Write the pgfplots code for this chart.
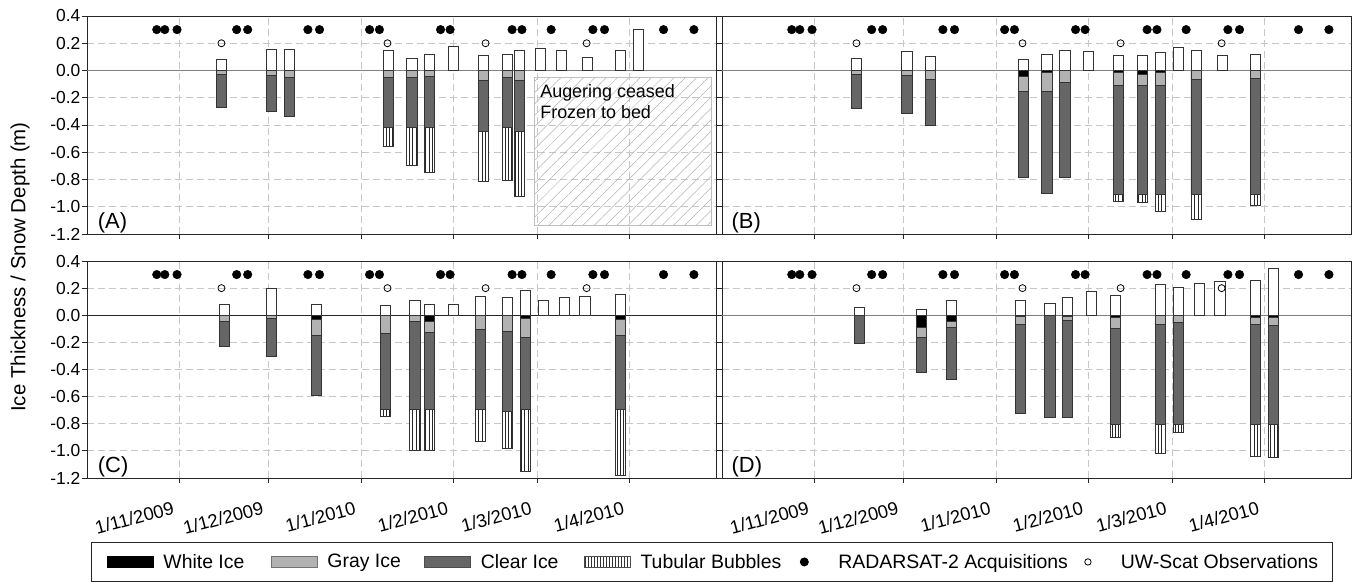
\documentclass[border=0pt]{standalone}
\usepackage{pgfplots}
\pgfplotsset{compat=1.18}
\usepackage{pgfplotstable}
\usepackage{fontspec}
\setmainfont{Liberation Sans}
\usetikzlibrary{patterns.meta}

\pgfplotstableread{
x y
-7.6 0.3
-4.9 0.3
-0.8 0.3
19.2 0.3
22.9 0.3
43.1 0.3
47.0 0.3
63.8 0.3
67.1 0.3
87.6 0.3
90.8 0.3
111.6 0.3
114.9 0.3
124.7 0.3
138.7 0.3
142.6 0.3
162.4 0.3
172.6 0.3
}\rsattab
\pgfplotstableread{
x y
14.1 0.2
69.8 0.2
102.7 0.2
136.6 0.2
}\uwstab

\definecolor{clearc}{HTML}{666666}
\definecolor{grayc}{HTML}{B2B2B2}

\tikzset{plabel/.style={anchor=south west, inner sep=0bp, font=\fontsize{22}{26}\selectfont}}

\pgfplotsset{
  panel/.style={
    scale only axis, width=629bp, height=217bp,
    xmin=-31, xmax=180, ymin=-1.2, ymax=0.4,
    xtick={0,30,61,92,120,151},
    ytick={-1.2,-1,-0.8,-0.6,-0.4,-0.2,0,0.2,0.4},
    axis line style={black!85, line width=0.9bp},
    tick style={black!85, line width=0.8bp},
    tick align=outside, xtick pos=bottom, ytick pos=left,
    major tick length=5bp,
    xmajorgrids, ymajorgrids,
    major grid style={dash pattern=on 7bp off 4bp, black!22, line width=0.8bp},
    xticklabel style={font=\fontsize{18.5}{22}\selectfont, rotate=15, anchor=north east, inner sep=0bp, xshift=-12bp, yshift=-15bp},
    yticklabel style={font=\fontsize{17.5}{21}\selectfont, inner xsep=1.5bp, /pgf/number format/.cd, fixed, fixed zerofill, precision=1, assume math mode=true},
  },
  barbase/.style={ybar, bar width=3.4, bar shift=0pt, draw=black!80, line width=0.8bp},
  snowS/.style={barbase, fill=white},
  iceT/.style={barbase, fill=white, postaction={pattern={Lines[angle=90,distance=3.3bp,line width=0.6bp]}, pattern color=black!85}},
  iceC/.style={barbase, fill=clearc},
  iceG/.style={barbase, fill=grayc},
  iceW/.style={barbase, fill=black},
  zeroline/.style={black!50, line width=1.3bp},
  zerolineb/.style={black!85, line width=0.9bp},
  rsat/.style={only marks, mark=*, mark size=4.3bp, black},
  uws/.style={only marks, mark=o, mark size=3.5bp, black, mark options={fill=white, line width=0.8bp}},
}

\begin{document}
\begin{tikzpicture}
% ---------------- (A) ----------------
\begin{axis}[panel, at={(87bp,348bp)}, anchor=south west, height=218bp, xticklabels={}]
\addplot[zeroline] coordinates {(-31,0) (180,0)};
\draw[black!25, line width=0.8bp, pattern={Lines[angle=45,distance=8bp,line width=0.5bp]}, pattern color=black!30] (axis cs:119,-0.05) rectangle (axis cs:178.5,-1.14);
\node[anchor=north west, align=left, inner sep=0bp, font=\fontsize{18}{20.5}\selectfont] at (axis cs:121,-0.105) {Augering ceased\\Frozen to bed};
\addplot[iceT] coordinates {(70,-0.555) (78,-0.695) (84,-0.75) (102,-0.817) (110,-0.807) (114,-0.923)};
\addplot[iceC] coordinates {(14,-0.272) (31,-0.30) (37,-0.34) (70,-0.42) (78,-0.42) (84,-0.42) (102,-0.444) (110,-0.42) (114,-0.444)};
\addplot[iceG] coordinates {(14,-0.032) (31,-0.034) (37,-0.05) (70,-0.05) (78,-0.05) (84,-0.045) (102,-0.074) (110,-0.05) (114,-0.07)};
\addplot[snowS] coordinates {(14,0.081) (31,0.155) (37,0.155) (70,0.15) (78,0.086) (84,0.12) (92,0.18) (102,0.11) (110,0.12) (114,0.15) (121,0.16) (128,0.15) (137,0.096) (148,0.15) (154,0.30)};
\addplot[rsat] table {\rsattab};
\addplot[uws] table {\uwstab};
\node[plabel] at (rel axis cs:0.017,0.004) {(A)};
\end{axis}
% ---------------- (B) ----------------
\begin{axis}[panel, at={(722bp,348bp)}, anchor=south west, height=218bp, xticklabels={}, yticklabels={}]
\addplot[zeroline] coordinates {(-31,0) (180,0)};
\addplot[iceT] coordinates {(102,-0.96) (110,-0.97) (116,-1.035) (128,-1.09) (148,-0.99)};
\addplot[iceC] coordinates {(14,-0.28) (31,-0.317) (39,-0.40) (70,-0.788) (78,-0.90) (84,-0.783) (102,-0.91) (110,-0.91) (116,-0.91) (128,-0.91) (148,-0.91)};
\addplot[iceG] coordinates {(14,-0.027) (31,-0.034) (39,-0.066) (70,-0.15) (78,-0.15) (84,-0.088) (102,-0.11) (110,-0.11) (116,-0.11) (128,-0.066) (148,-0.06)};
\addplot[iceW] coordinates {(70,-0.045) (78,-0.017) (102,-0.012) (110,-0.027) (116,-0.017)};
\addplot[snowS] coordinates {(14,0.088) (31,0.137) (39,0.103) (70,0.081) (78,0.12) (84,0.15) (92,0.137) (102,0.11) (110,0.11) (116,0.13) (122,0.17) (128,0.145) (137,0.11) (148,0.12)};
\addplot[rsat] table {\rsattab};
\addplot[uws] table {\uwstab};
\node[plabel] at (rel axis cs:0.015,0.004) {(B)};
\end{axis}
% ---------------- (C) ----------------
\begin{axis}[panel, at={(87bp,104bp)}, anchor=south west,
  xticklabels={1/11/2009,1/12/2009,1/1/2010,1/2/2010,1/3/2010,1/4/2010},
  legend columns=6, legend cell align=left,
  legend style={at={(axis description cs:0.00636,-0.2949)}, anchor=north west,
    draw=black!85, line width=0.9bp, inner xsep=0bp, inner ysep=9.5bp, column sep=0bp,
    nodes={inner sep=0bp, font=\fontsize{19.5}{23}\selectfont}}]
\addplot[zerolineb, forget plot] coordinates {(-31,0) (180,0)};
\addplot[iceT, forget plot] coordinates {(69,-0.744) (79,-0.994) (84,-0.994) (101,-0.928) (110,-0.98) (116,-1.148) (148,-1.178)};
\addplot[iceC, forget plot] coordinates {(15,-0.228) (31,-0.30) (46,-0.594) (69,-0.692) (79,-0.692) (84,-0.692) (101,-0.692) (110,-0.707) (116,-0.692) (148,-0.692)};
\addplot[iceG, forget plot] coordinates {(15,-0.049) (31,-0.025) (46,-0.147) (69,-0.135) (79,-0.049) (84,-0.128) (101,-0.103) (110,-0.118) (116,-0.16) (148,-0.147)};
\addplot[iceW, forget plot] coordinates {(46,-0.03) (84,-0.044) (116,-0.02) (148,-0.034)};
\addplot[snowS, forget plot] coordinates {(15,0.081) (31,0.196) (46,0.081) (69,0.069) (79,0.113) (84,0.083) (92,0.083) (101,0.142) (110,0.13) (116,0.18) (122,0.113) (129,0.135) (136,0.142) (148,0.152)};
\addplot[rsat, forget plot] table {\rsattab};
\addplot[uws, forget plot] table {\uwstab};
\node[plabel] at (rel axis cs:0.017,0.004) {(C)};
\addlegendimage{legend image code/.code={\path[draw=none,fill=none] (-16bp,-10bp) rectangle (56bp,10bp); \fill[black] (0bp,-5.5bp) rectangle (46bp,5.5bp);}}
\addlegendentry{White Ice}
\addlegendimage{legend image code/.code={\path[draw=none,fill=none] (-27bp,-10bp) rectangle (56bp,10bp); \draw[fill=grayc, draw=black!55, line width=0.8bp] (0bp,-5.5bp) rectangle (46bp,5.5bp);}}
\addlegendentry{Gray Ice}
\addlegendimage{legend image code/.code={\path[draw=none,fill=none] (-24bp,-10bp) rectangle (56bp,10bp); \draw[fill=clearc, draw=black!70, line width=0.8bp] (0bp,-5.5bp) rectangle (46bp,5.5bp);}}
\addlegendentry{Clear Ice}
\addlegendimage{legend image code/.code={\path[draw=none,fill=none] (-26bp,-10bp) rectangle (56bp,10bp); \draw[fill=white, draw=black!70, line width=0.8bp, postaction={pattern={Lines[angle=90,distance=3bp,line width=0.5bp]}, pattern color=black!80}] (0bp,-5.5bp) rectangle (46bp,5.5bp);}}
\addlegendentry{Tubular Bubbles}
\addlegendimage{legend image code/.code={\path[draw=none,fill=none] (-23bp,-10bp) rectangle (34bp,10bp); \fill[black] (0bp,0bp) circle (4bp);}}
\addlegendentry{RADARSAT-2 Acquisitions}
\addlegendimage{legend image code/.code={\path[draw=none,fill=none] (-20bp,-10bp) rectangle (33bp,10bp); \draw[fill=white, draw=black, line width=0.8bp] (0bp,0bp) circle (3.2bp);}}
\addlegendentry{UW-Scat Observations\hspace*{14bp}}
\end{axis}
% ---------------- (D) ----------------
\begin{axis}[panel, at={(722bp,104bp)}, anchor=south west, yticklabels={},
  xticklabels={1/11/2009,1/12/2009,1/1/2010,1/2/2010,1/3/2010,1/4/2010}]
\addplot[zeroline] coordinates {(-31,0) (180,0)};
\addplot[iceT] coordinates {(101,-0.903) (116,-1.018) (122,-0.866) (148,-1.038) (154,-1.05)};
\addplot[iceC] coordinates {(15,-0.204) (36,-0.425) (46,-0.474) (69,-0.726) (79,-0.751) (85,-0.751) (101,-0.805) (116,-0.805) (122,-0.805) (148,-0.805) (154,-0.805)};
\addplot[iceG] coordinates {(36,-0.162) (46,-0.093) (69,-0.066) (85,-0.035) (101,-0.098) (116,-0.069) (122,-0.056) (148,-0.069) (154,-0.078)};
\addplot[iceW] coordinates {(36,-0.093) (46,-0.044) (69,-0.012) (85,-0.01) (101,-0.017) (148,-0.015) (154,-0.015)};
\addplot[snowS] coordinates {(15,0.056) (36,0.042) (46,0.108) (69,0.113) (79,0.091) (85,0.135) (93,0.178) (101,0.147) (116,0.23) (122,0.207) (129,0.237) (136,0.25) (148,0.26) (154,0.347)};
\addplot[rsat] table {\rsattab};
\addplot[uws] table {\uwstab};
\node[plabel] at (rel axis cs:0.015,0.004) {(D)};
\end{axis}
\node[rotate=90, font=\fontsize{20.5}{24}\selectfont] at (20bp,315bp) {Ice Thickness / Snow Depth (m)};
\pgfresetboundingbox
\path[use as bounding box] (0bp,0bp) rectangle (1353bp,582bp);
\end{tikzpicture}
\end{document}
